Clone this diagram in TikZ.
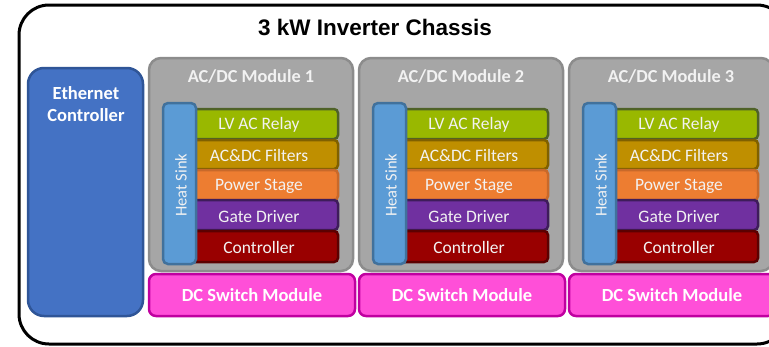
\documentclass[tikz,border=0pt]{standalone}
\usepackage{fontspec}
\setmainfont{Carlito}
\newfontfamily\titlefont{Liberation Sans}
\begin{document}
\begin{tikzpicture}[x=1pt,y=-1pt,
  every node/.style={inner sep=0pt,outer sep=0pt},
  chassis/.style={draw=black,line width=3pt,rounded corners=30pt,fill=white},
  ethbox/.style={draw=ethedge,fill=ethfill,line width=2.5pt,rounded corners=16pt},
  modbox/.style={draw=modedge,fill=modfill,line width=2.5pt,rounded corners=12pt},
  dcbox/.style={draw=dcedge,fill=dcfill,line width=2.5pt,rounded corners=7pt},
  sinkbox/.style={draw=sinkedge,fill=sinkfill,line width=2.5pt,rounded corners=5pt},
  layer/.style={line width=2.5pt,rounded corners=4pt},
  boldlbl/.style={text=white,font=\bfseries\fontsize{18.5}{22}\selectfont,align=center},
  modlbl/.style={text=lbl,font=\bfseries\fontsize{18.3}{21}\selectfont},
  layerlbl/.style={text=lbl,font=\fontsize{17.5}{20}\selectfont},
  sinklbl/.style={text=lbl,font=\fontsize{16.5}{19}\selectfont,rotate=90},
]
\definecolor{ethfill}{HTML}{4472C4}
\definecolor{ethedge}{HTML}{2F5597}
\definecolor{modfill}{HTML}{A6A6A6}
\definecolor{modedge}{HTML}{8C8C8C}
\definecolor{dcfill}{HTML}{FF4FD8}
\definecolor{dcedge}{HTML}{C000A0}
\definecolor{sinkfill}{HTML}{5B9BD5}
\definecolor{sinkedge}{HTML}{41719C}
\definecolor{relayfill}{HTML}{99B800}
\definecolor{relayedge}{HTML}{4F6228}
\definecolor{filtfill}{HTML}{BF8F00}
\definecolor{filtedge}{HTML}{7F6000}
\definecolor{powfill}{HTML}{ED7D31}
\definecolor{powedge}{HTML}{C8692A}
\definecolor{gatefill}{HTML}{7030A0}
\definecolor{gateedge}{HTML}{3E1C5A}
\definecolor{ctrlfill}{HTML}{990000}
\definecolor{ctrledge}{HTML}{5C0000}
\definecolor{lbl}{HTML}{F2F2F2}

\useasboundingbox (0,0) rectangle (769,346);
\begin{scope}
\clip (0,0) rectangle (769,346);

% outer chassis
\draw[chassis] (19,5) rectangle (787,344);
\node[font=\titlefont\bfseries\fontsize{22.5}{26}\selectfont] (title) at (375,27) {3 kW Inverter Chassis};

% ethernet controller
\draw[ethbox] (28,68) rectangle (143,316);
\node[boldlbl] (eth) at (86,104) {Ethernet\\Controller};

% three AC/DC modules
\foreach \i/\dx in {1/0,2/210,3/420}{
  \begin{scope}[xshift=\dx]
    \draw[modbox] (149,58) rectangle (353,271);
    \node[modlbl] (mod\i) at (251,76) {AC/DC Module \i};
    \draw[layer,draw=relayedge,fill=relayfill] (190,109) rectangle (338,139);
    \draw[layer,draw=filtedge,fill=filtfill] (190,140) rectangle (338,169);
    \draw[layer,draw=powedge,fill=powfill] (190,170) rectangle (338,200);
    \draw[layer,draw=gateedge,fill=gatefill] (190,200) rectangle (338,230);
    \draw[layer,draw=ctrledge,fill=ctrlfill] (190,231) rectangle (338,262);
    \node[layerlbl] (relay\i) at (259,125) {LV AC Relay};
    \node[layerlbl] (filt\i) at (259,155) {AC\&DC Filters};
    \node[layerlbl] (pow\i) at (259,186) {Power Stage};
    \node[layerlbl] (gate\i) at (259,217) {Gate Driver};
    \node[layerlbl] (ctrl\i) at (259,247) {Controller};
    \draw[sinkbox] (163,103) rectangle (196,264);
    \node[sinklbl] (sink\i) at (181,185) {Heat Sink};
    \draw[dcbox] (149,274) rectangle (355,316);
    \node[boldlbl] (dc\i) at (252,295) {DC Switch Module};
  \end{scope}
}
\end{scope}
\end{tikzpicture}
\end{document}
